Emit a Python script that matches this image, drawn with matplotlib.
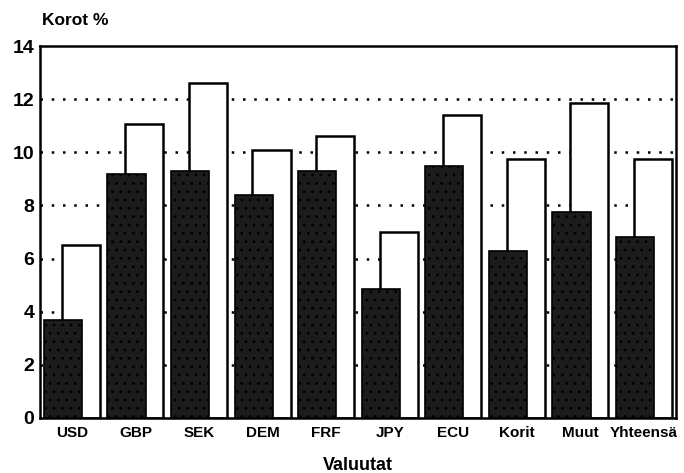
import matplotlib
matplotlib.use("Agg")
import matplotlib.pyplot as plt
import numpy as np

categories = ["USD", "GBP", "SEK", "DEM", "FRF", "JPY", "ECU", "Korit", "Muut", "Yhteensä"]
dark_values = [3.7, 9.2, 9.3, 8.4, 9.3, 4.85, 9.5, 6.3, 7.75, 6.8]
white_values = [6.5, 11.05, 12.6, 10.1, 10.6, 7.0, 11.4, 9.75, 11.85, 9.75]
y_ticks = [0, 2, 4, 6, 8, 10, 12, 14]

plt.rcParams['font.family'] = ['Liberation Sans', 'DejaVu Sans']
plt.rcParams['hatch.color'] = '#8a8a8a'
plt.rcParams['hatch.linewidth'] = 0.8

fig = plt.figure(figsize=(6.84, 4.73), dpi=100)
ax = fig.add_axes([0.0585, 0.1163, 0.9295, 0.7864])

x = np.arange(len(categories))
w = 0.6
off = 0.14
ax.bar(x + off, white_values, width=w, color="white", edgecolor="black", linewidth=1.8, zorder=2)
ax.bar(x - off, dark_values, width=w, color="#1c1c1c", edgecolor="black", linewidth=1.2,
       hatch="..", zorder=3)

ax.set_xlim(-0.5, len(categories) - 0.5)
ax.set_ylim(0, 14)
ax.set_yticks(y_ticks)
ax.set_yticklabels([str(t) for t in y_ticks], fontsize=14, fontweight="bold")
ax.set_xticks(x)
ax.set_xticklabels(categories, fontsize=11, fontweight="bold")
ax.tick_params(axis="x", length=0, pad=6)
ax.tick_params(axis="y", length=0, pad=4)

for t in y_ticks[1:-1]:
    ax.axhline(t, color="black", linestyle=(0, (1, 3.5)), linewidth=1.8, zorder=1)

for s in ax.spines.values():
    s.set_linewidth(1.8)

ax.set_xlabel("Valuutat", fontsize=13, fontweight="bold", labelpad=12)
fig.text(0.061, 0.94, "Korot %", fontsize=12.5, fontweight="bold", ha="left", va="bottom")

fig.savefig("out.png", dpi=100)
